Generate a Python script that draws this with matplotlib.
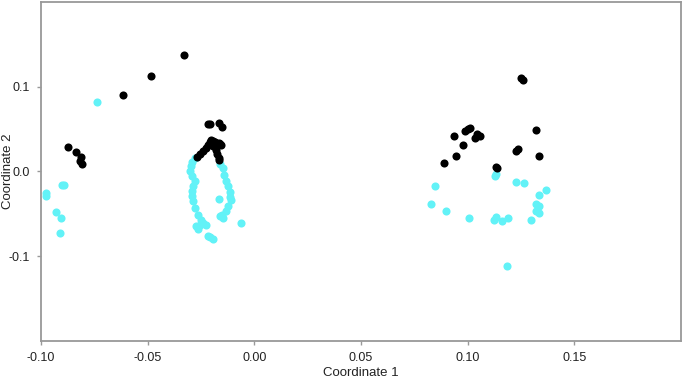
import matplotlib
matplotlib.use("Agg")
import matplotlib.pyplot as plt

plt.rcParams['font.family'] = ['Liberation Sans', 'DejaVu Sans']

# group 1 (black)
black_x = [-0.0330, -0.0485, -0.0615, -0.0874, -0.0838, -0.0813, -0.0810, -0.0815,
           -0.0218, -0.0206, -0.0168, -0.0152,
           -0.0271, -0.0257, -0.0243, -0.0229, -0.0215, -0.0206, -0.0201, -0.0192,
           -0.0178, -0.0164, -0.0159, -0.0192, -0.0182, -0.0173, -0.0168, -0.0164,
           -0.0185, -0.0170, -0.0200, -0.0155,
           0.0888, 0.0943, 0.0978, 0.0935, 0.0989, 0.1000, 0.1013, 0.1036, 0.1042,
           0.1056, 0.1137, 0.1133, 0.1249, 0.1258, 0.1319, 0.1226, 0.1234, 0.1332]
black_y = [0.1370, 0.1126, 0.0902, 0.0294, 0.0235, 0.0173, 0.0091, 0.0125,
           0.0561, 0.0561, 0.0573, 0.0522,
           0.0173, 0.0208, 0.0244, 0.0279, 0.0314, 0.0350, 0.0373, 0.0361,
           0.0338, 0.0338, 0.0326, 0.0302, 0.0255, 0.0208, 0.0161, 0.0138,
           0.0350, 0.0320, 0.0330, 0.0310,
           0.0106, 0.0188, 0.0314, 0.0420, 0.0482, 0.0502, 0.0518, 0.0400, 0.0444,
           0.0420, 0.0040, 0.0055, 0.1106, 0.1079, 0.0491, 0.0244, 0.0267, 0.0185]

# group 2 (cyan)
cyan_x = [-0.0738, -0.0900, -0.0893, -0.0977, -0.0977, -0.0931, -0.0907, -0.0911,
          -0.0280, -0.0290, -0.0296, -0.0301, -0.0294, -0.0280, -0.0287, -0.0291,
          -0.0290, -0.0288, -0.0280, -0.0265, -0.0249, -0.0242, -0.0227, -0.0257,
          -0.0272, -0.0262, -0.0218, -0.0206, -0.0192,
          -0.0159, -0.0148, -0.0140, -0.0132, -0.0125, -0.0114, -0.0112, -0.0110,
          -0.0125, -0.0132, -0.0150, -0.0159, -0.0148, -0.0166, -0.0062,
          0.0846, 0.0826, 0.0896, 0.1006, 0.1124, 0.1133, 0.1159, 0.1188, 0.1128,
          0.1133, 0.1228, 0.1266, 0.1367, 0.1333, 0.1318, 0.1336, 0.1320, 0.1332,
          0.1299, 0.1184]
cyan_y = [0.0820, -0.0160, -0.0157, -0.0254, -0.0294, -0.0474, -0.0545, -0.0725,
          0.0158, 0.0114, 0.0067, 0.0008, -0.0051, -0.0118, -0.0168, -0.0227,
          -0.0286, -0.0353, -0.0431, -0.0509, -0.0568, -0.0607, -0.0627, -0.0627,
          -0.0647, -0.0674, -0.0765, -0.0774, -0.0792,
          0.0091, 0.0040, -0.0039, -0.0118, -0.0176, -0.0247, -0.0298, -0.0333,
          -0.0412, -0.0471, -0.0509, -0.0521, -0.0548, -0.0325, -0.0607,
          -0.0174, -0.0380, -0.0465, -0.0547, -0.0574, -0.0541, -0.0582, -0.0551,
          -0.0051, -0.0033, -0.0121, -0.0133, -0.0215, -0.0274, -0.0382, -0.0404,
          -0.0471, -0.0489, -0.0568, -0.1113]

x_ticks = [-0.10, -0.05, 0.00, 0.05, 0.10, 0.15]
y_ticks = [-0.1, 0.0, 0.1]

fig = plt.figure(figsize=(6.85, 3.79), dpi=100)
ax = fig.add_axes([0.0599, 0.1003, 0.9343, 0.8944])

ax.scatter(cyan_x, cyan_y, s=34, color='#62F2F7', linewidths=0, zorder=2)
ax.scatter(black_x, black_y, s=34, color='black', linewidths=0, zorder=3)

ax.set_xlim(-0.1, 0.2)
ax.set_ylim(-0.2, 0.2)
ax.set_xticks(x_ticks)
ax.set_xticklabels(['%.2f' % v for v in x_ticks])
ax.set_yticks(y_ticks)
ax.set_yticklabels(['%.1f' % v for v in y_ticks])

for sp in ax.spines.values():
    sp.set_color('#999999')
    sp.set_linewidth(1.3)
ax.tick_params(axis='both', length=3, width=1, color='#999999', labelsize=9,
               labelcolor='#222222', pad=5)

ax.set_xlabel('Coordinate 1', fontsize=9.5, color='#222222', va='center')
ax.set_ylabel('Coordinate 2', fontsize=9.5, color='#222222', va='center')
ax.xaxis.set_label_coords(0.5, -0.094)
ax.yaxis.set_label_coords(-0.052, 0.5)

fig.savefig('out.png', dpi=100)
